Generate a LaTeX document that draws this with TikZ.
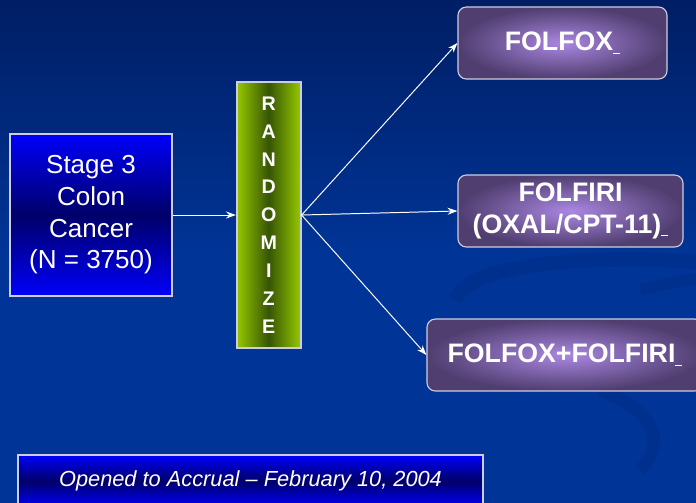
\documentclass[tikz,border=0pt]{standalone}
\usepackage{fontspec}
\setmainfont{Liberation Sans}
\usetikzlibrary{arrows.meta, positioning, shadings}
\definecolor{bgTop}{RGB}{0,30,100}
\definecolor{bgBottom}{RGB}{0,52,150}
\definecolor{boxBlue}{RGB}{0,0,250}
\definecolor{boxNavy}{RGB}{0,0,105}
\definecolor{randLime}{RGB}{150,200,0}
\definecolor{randOlive}{RGB}{55,85,5}
\definecolor{armInner}{RGB}{170,135,225}
\definecolor{armOuter}{RGB}{80,62,112}
\definecolor{frameGray}{RGB}{205,205,225}
\definecolor{swoosh}{RGB}{0,42,128}

\newcommand{\trail}{\rule[-2pt]{5pt}{0.8pt}}

\begin{document}
\begin{tikzpicture}[x=0.025cm, y=-0.025cm,
stagebox/.style={rectangle, draw=frameGray, line width=1.2pt,
top color=boxBlue, bottom color=boxBlue, middle color=boxNavy,
text=white, align=center, minimum width=4.05cm, minimum height=4.05cm,
font=\fontsize{18.5}{22.5}\selectfont},
randbox/.style={rectangle, draw=frameGray, line width=1.2pt,
left color=randLime, right color=randLime, middle color=randOlive,
text=white, align=center, minimum width=1.6cm, minimum height=6.65cm,
font=\fontsize{14}{19.8}\selectfont\bfseries},
armbox/.style={rectangle, rounded corners=6pt, draw=frameGray, line width=0.8pt,
inner color=armInner, outer color=armOuter,
text=white, align=center, minimum height=1.8cm,
font=\fontsize{19}{22.7}\selectfont\bfseries},
notebox/.style={rectangle, draw=frameGray, line width=1.2pt,
top color=boxBlue, bottom color=boxBlue, middle color=boxNavy,
text=white, align=center, minimum width=11.625cm, minimum height=1.3cm,
font=\fontsize{15.5}{17}\selectfont\itshape},
arrow/.style={-{Stealth[length=7pt, width=5pt]}, line width=0.7pt, color=white}]

\useasboundingbox (0,0) rectangle (696,502);
% background with faint swooshes
\fill[top color=bgTop, bottom color=bgBottom, middle color=bgBottom] (0,0) rectangle (696,502);
\draw[swoosh, line width=10pt, opacity=0.35] (455,300) .. controls (470,262) and (590,255) .. (700,262);
\draw[swoosh, line width=8pt, opacity=0.35] (640,290) .. controls (680,280) and (690,280) .. (700,278);
\draw[swoosh, line width=9pt, opacity=0.35] (600,390) .. controls (650,410) and (670,440) .. (640,470);

\node[stagebox] (stage) at (91,215)
    {Stage 3\\Colon\\Cancer\\(N = 3750)};
\node[randbox, right=1.575cm of stage] (rand)
    {R\\A\\N\\D\\O\\M\\I\\Z\\E};
\node[armbox, minimum width=5.225cm] (folfox) at (562.5,43)
    {FOLFOX\trail};
\node[armbox, minimum width=5.625cm] (folfiri) at (570.5,211)
    {FOLFIRI\\(OXAL/CPT-11)\trail};
\node[armbox, minimum width=6.9cm] (combo) at (565,355)
    {FOLFOX+FOLFIRI\trail};
\node[notebox] (accrual) at (250.5,481)
    {Opened to Accrual -- February 10, 2004};

\draw[arrow] (stage) -- (rand);
\draw[arrow] (rand.east) -- (folfox.west);
\draw[arrow] (rand.east) -- (folfiri.west);
\draw[arrow] (rand.east) -- (combo.west);
\end{tikzpicture}
\end{document}
